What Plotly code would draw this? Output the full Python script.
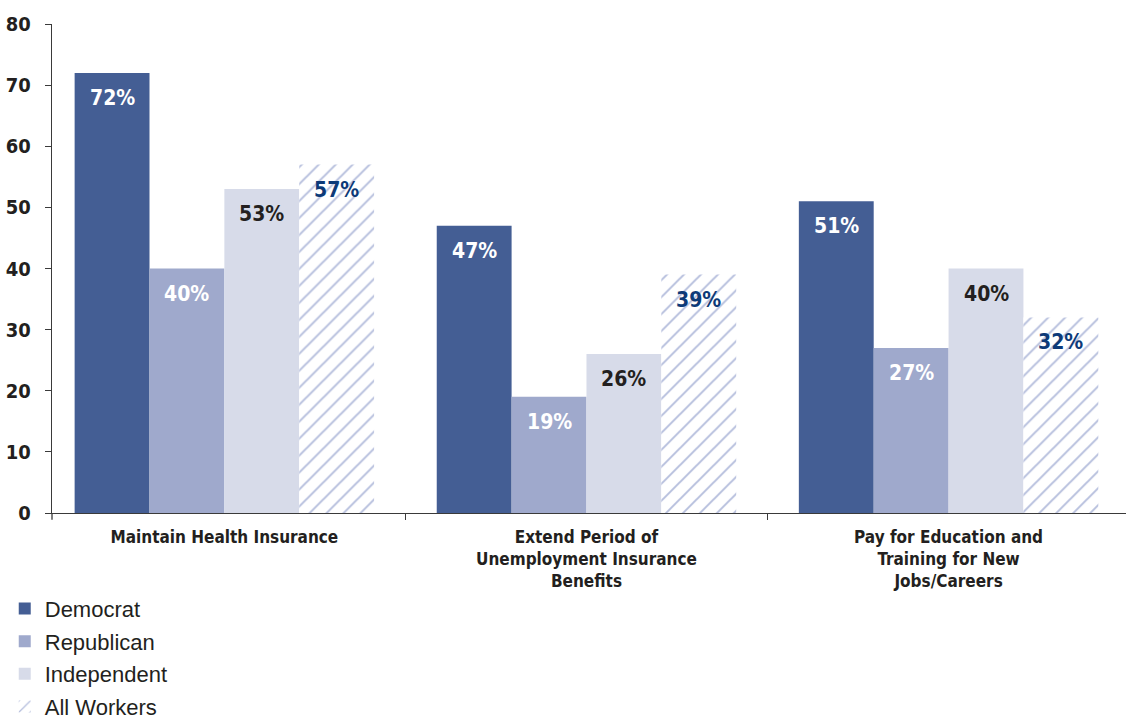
import plotly.graph_objects as go

# Survey data: share supporting each use of funds, by party
categories = [
    "Maintain Health Insurance",
    "Extend Period of<br>Unemployment Insurance<br>Benefits",
    "Pay for Education and<br>Training for New<br>Jobs/Careers",
]
series_names = ["Democrat", "Republican", "Independent", "All Workers"]
democrat = [72, 47, 51]
republican = [40, 19, 27]
independent = [53, 26, 40]
all_workers = [57, 39, 32]
y_ticks = [0, 10, 20, 30, 40, 50, 60, 70, 80]

series_values = [democrat, republican, independent, all_workers]
bar_colors = ["#445e94", "#9fa9cc", "#d7dbe9", "#ffffff"]
label_colors = ["#ffffff", "#ffffff", "#231f20", "#0d3a78"]

BOLD_NARROW = "DejaVu Sans Condensed, Liberation Sans Narrow, Arial Narrow, sans-serif"
BARGAP = 0.173

fig = go.Figure()
for name, vals, color in zip(series_names, series_values, bar_colors):
    marker = dict(color=color, line=dict(width=0))
    if name == "All Workers":
        marker["pattern"] = dict(shape="/", fgcolor="#6a7cba", bgcolor="#ffffff",
                                 size=12, solidity=0.16)
    fig.add_trace(go.Bar(name=name, x=categories, y=vals, marker=marker,
                         legendgroup=name))

# Value labels placed just inside the top of each bar
n = len(series_names)
bw = (1 - BARGAP) / n
annotations = []
for k, (vals, tc) in enumerate(zip(series_values, label_colors)):
    for i, v in enumerate(vals):
        annotations.append(dict(
            x=i + (k - (n - 1) / 2) * bw, y=v, xref="x", yref="y",
            text=f"{v}%", showarrow=False, yanchor="middle", yshift=-25,
            font=dict(family=BOLD_NARROW, size=21, color=tc, weight="bold"),
        ))

fig.update_layout(
    width=1126, height=719,
    margin=dict(l=52, r=0, t=24, b=206, autoexpand=False),
    paper_bgcolor="white", plot_bgcolor="white",
    barmode="group", bargap=BARGAP, bargroupgap=0,
    annotations=annotations,
    legend=dict(
        orientation="v", x=-0.044, xanchor="left", y=-0.153, yanchor="top",
        font=dict(family="Liberation Sans, Arial, sans-serif", size=22, color="#231f20"),
        bgcolor="rgba(0,0,0,0)", itemclick=False, tracegroupgap=1,
    ),
    showlegend=True,
)

fig.update_xaxes(
    type="category", range=[-0.476, 2.49],
    tickson="boundaries", ticks="outside", ticklen=6, tickcolor="#3a3a3a",
    showline=True, linecolor="#3a3a3a", linewidth=1.3,
    showgrid=False, zeroline=False, automargin=False,
    tickvals=categories, ticktext=categories,
    tickfont=dict(family=BOLD_NARROW, size=17, color="#231f20", weight="bold"),
    ticklabelstandoff=8,
)
fig.update_yaxes(
    range=[0, 80], tickvals=y_ticks, ticks="outside", ticklen=6, tickcolor="#3a3a3a",
    showline=True, linecolor="#3a3a3a", linewidth=1.3,
    showgrid=False, zeroline=False, automargin=False,
    tickfont=dict(family=BOLD_NARROW, size=20, color="#231f20", weight="bold"),
    ticklabelstandoff=10,
)

# Tick at the left end of the category axis
fig.add_shape(type="line", xref="paper", yref="paper", x0=0, x1=0, y0=0, y1=-0.014,
              line=dict(color="#3a3a3a", width=1.3))

fig.write_html("out.html")
